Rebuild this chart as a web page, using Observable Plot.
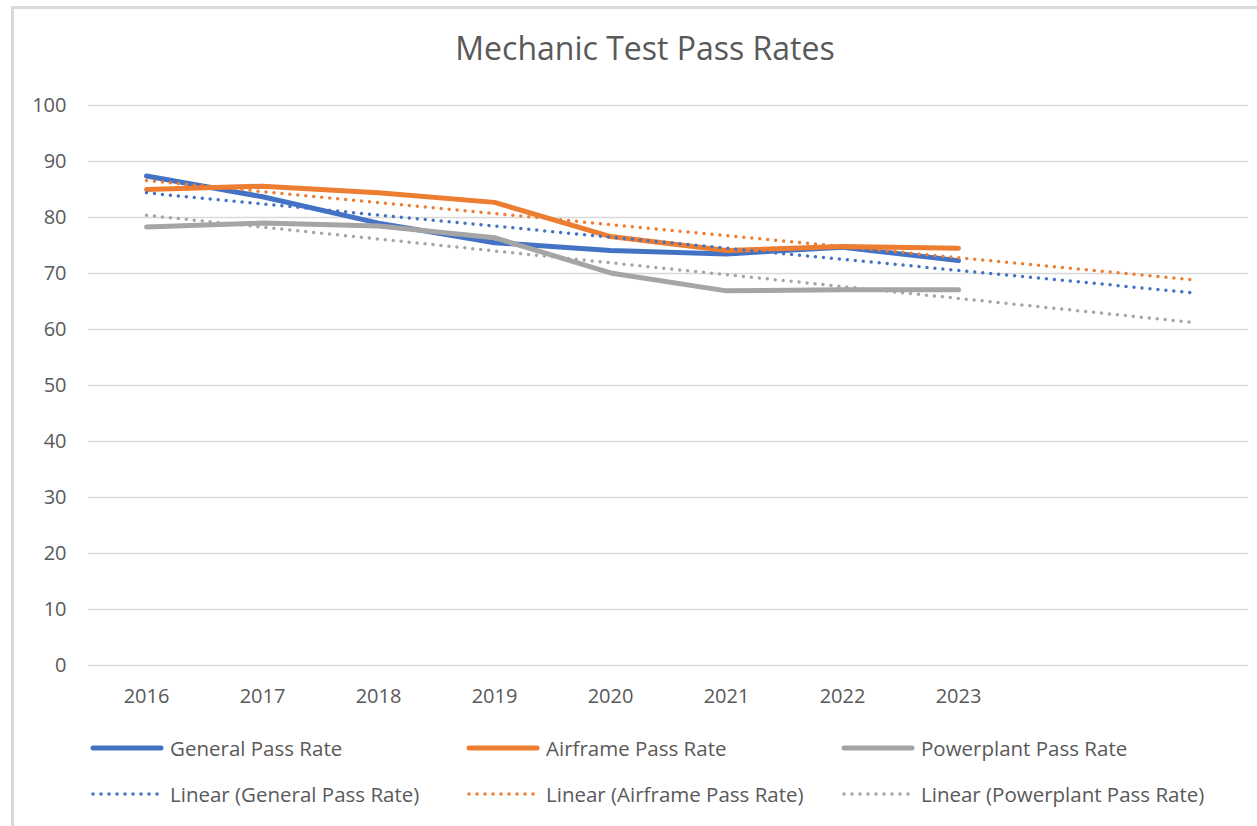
<!DOCTYPE html>
<html>
<head>
<meta charset="utf-8">
<script src="https://cdn.jsdelivr.net/npm/d3@7"></script>
<script src="https://cdn.jsdelivr.net/npm/@observablehq/plot@0.6"></script>
<style>
  html, body { margin: 0; padding: 0; background: #fff; overflow: hidden; }
  body { width: 1257px; height: 826px; position: relative; font-family: "Open Sans", sans-serif; color: #595959; }
  #frame { position: absolute; left: 11px; top: 6px; width: 1400px; height: 1000px; border: 3px solid #d9d9d9; box-sizing: border-box; }
  #title { position: absolute; left: 0; width: 1290px; top: 26px; text-align: center; font-size: 32px; line-height: 44px; color: #595959; }
  #chart { position: absolute; left: 0; top: 80px; }
  .leg { position: absolute; display: flex; align-items: center; font-size: 20.5px; color: #595959; white-space: nowrap; }
  .leg svg { margin-right: 6px; }
</style>
</head>
<body>
<div id="frame"></div>
<div id="title">Mechanic Test Pass Rates</div>
<div id="chart"></div>
<div id="legend"></div>
<script>
// ---- data ----
const years = [2016, 2017, 2018, 2019, 2020, 2021, 2022, 2023];
const general = [87.4, 83.7, 79.0, 75.5, 74.1, 73.5, 74.7, 72.3];
const airframe = [85.0, 85.6, 84.4, 82.7, 76.6, 74.1, 74.8, 74.5];
const powerplant = [78.3, 79.0, 78.5, 76.4, 70.1, 66.9, 67.1, 67.1];
// linear trendlines (forecast forward 2 periods), read at 2016 and 2025
const trendYears = [2016, 2025];
const generalTrend = [84.4, 66.6];
const airframeTrend = [86.6, 68.9];
const powerplantTrend = [80.4, 61.3];
const yTicks = [0, 10, 20, 30, 40, 50, 60, 70, 80, 90, 100];
const seriesNames = ["General Pass Rate", "Airframe Pass Rate", "Powerplant Pass Rate"];
const colors = ["#4472C4", "#ED7D31", "#A5A5A5"];

const seriesVals = [general, airframe, powerplant];
const trendVals = [generalTrend, airframeTrend, powerplantTrend];

const lineData = seriesVals.flatMap((vals, i) => vals.map((v, j) => ({series: seriesNames[i], year: years[j], value: v})));
const trendData = trendVals.flatMap((vals, i) => vals.map((v, j) => ({series: seriesNames[i], year: trendYears[j], value: v})));

const color = {domain: seriesNames, range: colors};

const plot = Plot.plot({
  width: 1257,
  height: 650,
  marginLeft: 88,
  marginRight: 9,
  marginTop: 25,
  marginBottom: 65,
  style: {fontFamily: "Open Sans, sans-serif", fontSize: "20px", color: "#595959", background: "transparent"},
  x: {domain: [2015.5, 2025.5], axis: null},
  y: {domain: [0, 100], axis: null},
  color,
  marks: [
    Plot.ruleY(yTicks, {stroke: "#d9d9d9", strokeWidth: 1.5}),
    Plot.axisY({ticks: yTicks, tickSize: 0, tickPadding: 22, fontSize: 20, fill: "#595959", label: null}),
    Plot.axisX({ticks: years, tickFormat: d => String(d), tickSize: 0, tickPadding: 23, fontSize: 20, fill: "#595959", label: null}),
    Plot.line(lineData, {x: "year", y: "value", z: "series", stroke: "series", strokeWidth: 5, strokeLinecap: "round", strokeLinejoin: "round"}),
    Plot.line(trendData, {x: "year", y: "value", z: "series", stroke: "series", strokeWidth: 3.5, strokeLinecap: "round", strokeDasharray: "0 8"})
  ]
});
document.getElementById("chart").appendChild(plot);

// ---- legend ----
const legend = document.getElementById("legend");
const colX = [90, 466, 841];
const rowY = [748, 794];
seriesNames.forEach((name, i) => {
  [0, 1].forEach(r => {
    const d = document.createElement("div");
    d.className = "leg";
    d.style.left = colX[i] + "px";
    d.style.top = (rowY[r] - 15) + "px";
    d.style.height = "30px";
    const line = r === 0
      ? `<line x1="3" y1="6" x2="71" y2="6" stroke="${colors[i]}" stroke-width="5" stroke-linecap="round"/>`
      : `<line x1="3" y1="6" x2="71" y2="6" stroke="${colors[i]}" stroke-width="3.5" stroke-linecap="round" stroke-dasharray="0 8"/>`;
    d.innerHTML = `<svg width="74" height="12">${line}</svg><span>${r === 0 ? name : "Linear (" + name + ")"}</span>`;
    legend.appendChild(d);
  });
});
</script>
</body>
</html>
